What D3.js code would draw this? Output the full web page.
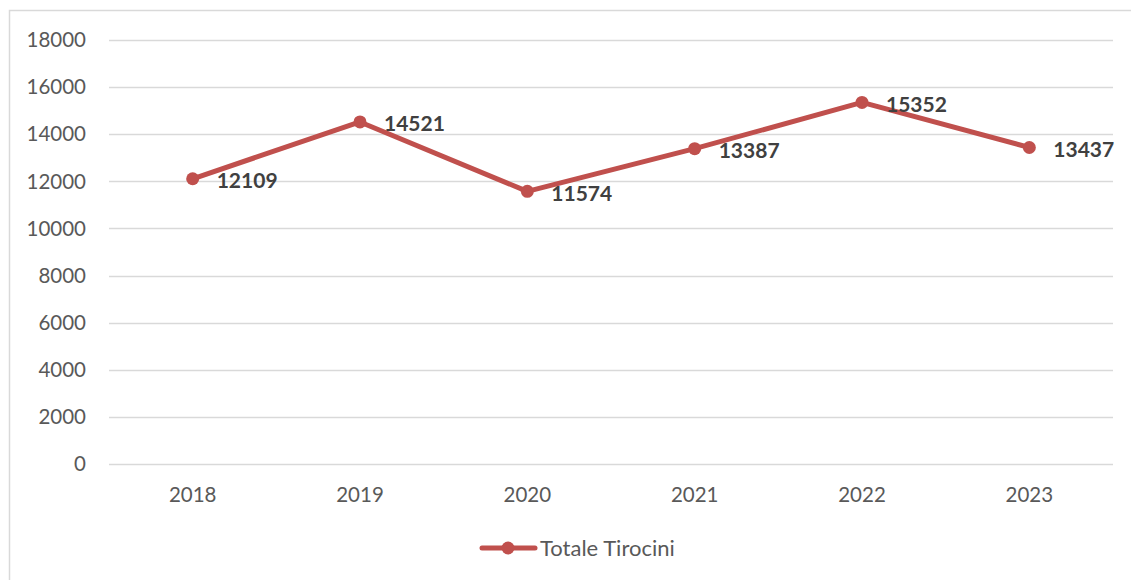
<!DOCTYPE html>
<html>
<head>
<meta charset="utf-8">
<script src="https://cdn.jsdelivr.net/npm/d3@7"></script>
<style>
  body { margin: 0; background: #fff; }
  svg { display: block; }
</style>
</head>
<body>
<div id="chart"></div>
<script>
// data
const years = ["2018", "2019", "2020", "2021", "2022", "2023"];
const tirocini = [12109, 14521, 11574, 13387, 15352, 13437];
const yTicks = [0, 2000, 4000, 6000, 8000, 10000, 12000, 14000, 16000, 18000];
const seriesName = "Totale Tirocini";

const W = 1131, H = 580;
const color = "#c0504d";
const font = "Lato, 'Open Sans', sans-serif";

const svg = d3.select("#chart")
    .append("svg")
    .attr("width", W)
    .attr("height", H);

// chart frame (only top and left edges are visible)
svg.append("path")
    .attr("d", "M9.5," + H + "V10.5H" + W)
    .attr("fill", "none")
    .attr("stroke", "#d9d9d9")
    .attr("stroke-width", 1.5);

const x = d3.scaleBand()
    .domain(years)
    .range([109, 1113]);

const y = d3.scaleLinear()
    .domain([0, 18000])
    .range([464, 40]);

// gridlines
svg.append("g")
    .selectAll("line")
    .data(yTicks)
    .enter()
    .append("line")
    .attr("x1", 109)
    .attr("x2", 1113)
    .attr("y1", d => Math.round(y(d)) + 0.5)
    .attr("y2", d => Math.round(y(d)) + 0.5)
    .attr("stroke", "#d9d9d9")
    .attr("stroke-width", 1.5);

// y tick labels
svg.append("g")
    .selectAll("text")
    .data(yTicks)
    .enter()
    .append("text")
    .text(d => d)
    .attr("x", 86)
    .attr("y", d => y(d))
    .attr("dy", "0.35em")
    .attr("text-anchor", "end")
    .attr("fill", "#595959")
    .attr("font-family", font)
    .attr("font-size", "20.5px");

// x labels
svg.append("g")
    .selectAll("text")
    .data(years)
    .enter()
    .append("text")
    .text(d => d)
    .attr("x", d => x(d) + x.bandwidth() / 2)
    .attr("y", 495)
    .attr("dy", "0.35em")
    .attr("text-anchor", "middle")
    .attr("fill", "#595959")
    .attr("font-family", font)
    .attr("font-size", "20.5px");

const cx = (d, i) => x(years[i]) + x.bandwidth() / 2;

// line
const line = d3.line()
    .x((d, i) => cx(d, i))
    .y(d => y(d));

svg.append("path")
    .datum(tirocini)
    .attr("d", line)
    .attr("fill", "none")
    .attr("stroke", color)
    .attr("stroke-width", 5)
    .attr("stroke-linejoin", "round");

svg.append("g")
    .selectAll("circle")
    .data(tirocini)
    .enter()
    .append("circle")
    .attr("cx", cx)
    .attr("cy", d => y(d))
    .attr("r", 6.5)
    .attr("fill", color);

// data labels
svg.append("g")
    .selectAll("text")
    .data(tirocini)
    .enter()
    .append("text")
    .text(d => d)
    .attr("x", (d, i) => cx(d, i) + 24)
    .attr("y", d => y(d) + 2)
    .attr("dy", "0.35em")
    .attr("fill", "#404040")
    .attr("font-weight", "bold")
    .attr("font-family", font)
    .attr("font-size", "21px");

// legend
const legend = svg.append("g");
legend.append("line")
    .attr("x1", 482)
    .attr("x2", 535)
    .attr("y1", 548)
    .attr("y2", 548)
    .attr("stroke", color)
    .attr("stroke-width", 5)
    .attr("stroke-linecap", "round");
legend.append("circle")
    .attr("cx", 508)
    .attr("cy", 548)
    .attr("r", 6.5)
    .attr("fill", color);
legend.append("text")
    .text(seriesName)
    .attr("x", 540)
    .attr("y", 548)
    .attr("dy", "0.35em")
    .attr("fill", "#595959")
    .attr("font-family", font)
    .attr("font-size", "22px");
</script>
</body>
</html>
